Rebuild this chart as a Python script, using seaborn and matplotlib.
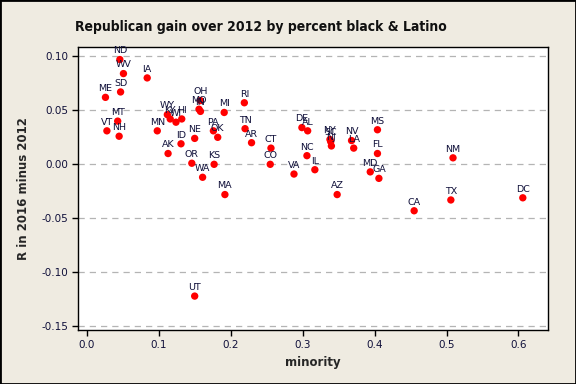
import matplotlib
matplotlib.use("Agg")
import matplotlib.pyplot as plt
import pandas as pd
import seaborn as sns

states = ["ND", "WV", "IA", "ME", "SD", "MT", "VT", "NH", "MN", "WY",
          "KY", "WI", "HI", "AK", "ID", "NE", "OR", "WA", "KS", "MA",
          "OH", "MO", "IN", "MI", "RI", "PA", "OK", "TN", "AR", "CT",
          "CO", "VA", "IL", "NC", "DE", "AL", "AZ", "NY", "SC", "NJ",
          "NV", "LA", "MS", "FL", "MD", "GA", "NM", "CA", "TX", "DC", "UT"]
minority = [0.046, 0.051, 0.084, 0.026, 0.047, 0.043, 0.028, 0.045, 0.098, 0.112,
            0.116, 0.124, 0.132, 0.113, 0.131, 0.150, 0.146, 0.161, 0.177, 0.192,
            0.158, 0.156, 0.158, 0.191, 0.219, 0.176, 0.182, 0.220, 0.229, 0.256,
            0.255, 0.288, 0.317, 0.306, 0.299, 0.307, 0.348, 0.338, 0.339, 0.340,
            0.368, 0.371, 0.404, 0.404, 0.394, 0.406, 0.509, 0.455, 0.506, 0.606, 0.150]
r_gain = [0.097, 0.084, 0.080, 0.062, 0.067, 0.040, 0.031, 0.026, 0.031, 0.046,
          0.042, 0.039, 0.042, 0.010, 0.019, 0.024, 0.001, -0.012, 0.000, -0.028,
          0.059, 0.051, 0.049, 0.048, 0.057, 0.031, 0.025, 0.033, 0.020, 0.015,
          0.000, -0.009, -0.005, 0.008, 0.034, 0.031, -0.028, 0.023, 0.021, 0.017,
          0.022, 0.015, 0.032, 0.010, -0.007, -0.013, 0.006, -0.043, -0.033, -0.031, -0.122]

df = pd.DataFrame({"state": states, "minority": minority, "gain": r_gain})

sns.set_style("white")
plt.rcParams["font.family"] = ["DejaVu Sans"]

fig = plt.figure(figsize=(5.76, 3.84), dpi=100, facecolor="#efebe1")
ax = fig.add_axes([0.136, 0.1406, 0.815, 0.7378])
ax.set_facecolor("white")

sns.scatterplot(data=df, x="minority", y="gain", color="#ff0000",
                s=28, edgecolor="none", ax=ax, zorder=3)

# state abbreviations just above each dot
for _, row in df.iterrows():
    ax.annotate(row["state"], (row["minority"], row["gain"]),
                xytext=(0, 3), textcoords="offset points",
                ha="center", va="bottom", fontsize=6.8, color="#10103a", zorder=4)

ax.set_xlim(-0.0117, 0.6407)
ax.set_ylim(-0.1534, 0.1089)
ax.set_xticks([0.0, 0.1, 0.2, 0.3, 0.4, 0.5, 0.6])
ax.set_yticks([-0.15, -0.10, -0.05, 0.00, 0.05, 0.10])
ax.set_xticklabels(["0.0", "0.1", "0.2", "0.3", "0.4", "0.5", "0.6"])
ax.set_yticklabels(["-0.15", "-0.10", "-0.05", "0.00", "0.05", "0.10"])
ax.yaxis.grid(True, linestyle=(0, (5, 4)), color="#b4b4b4", linewidth=0.9)
ax.set_axisbelow(True)
ax.tick_params(axis="both", which="major", length=4, width=1, color="black",
               labelsize=7.5, labelcolor="#10103a", direction="out",
               bottom=True, left=True)
for sp in ax.spines.values():
    sp.set_color("black")
    sp.set_linewidth(1)

ax.set_xlabel("minority", fontsize=8.5, fontweight="bold", labelpad=4)
ax.set_ylabel("R in 2016 minus 2012", fontsize=8.5, fontweight="bold", labelpad=8)
fig.text(0.453, 0.93, "Republican gain over 2012 by percent black & Latino",
         ha="center", va="center", fontsize=10, fontweight="bold",
         fontstretch="condensed", color="#111111")

border = plt.Rectangle((0, 0), 1, 1, transform=fig.transFigure, fill=False,
                       edgecolor="black", linewidth=2)
fig.patches.append(border)

fig.savefig("out.png", dpi=100, facecolor=fig.get_facecolor())
